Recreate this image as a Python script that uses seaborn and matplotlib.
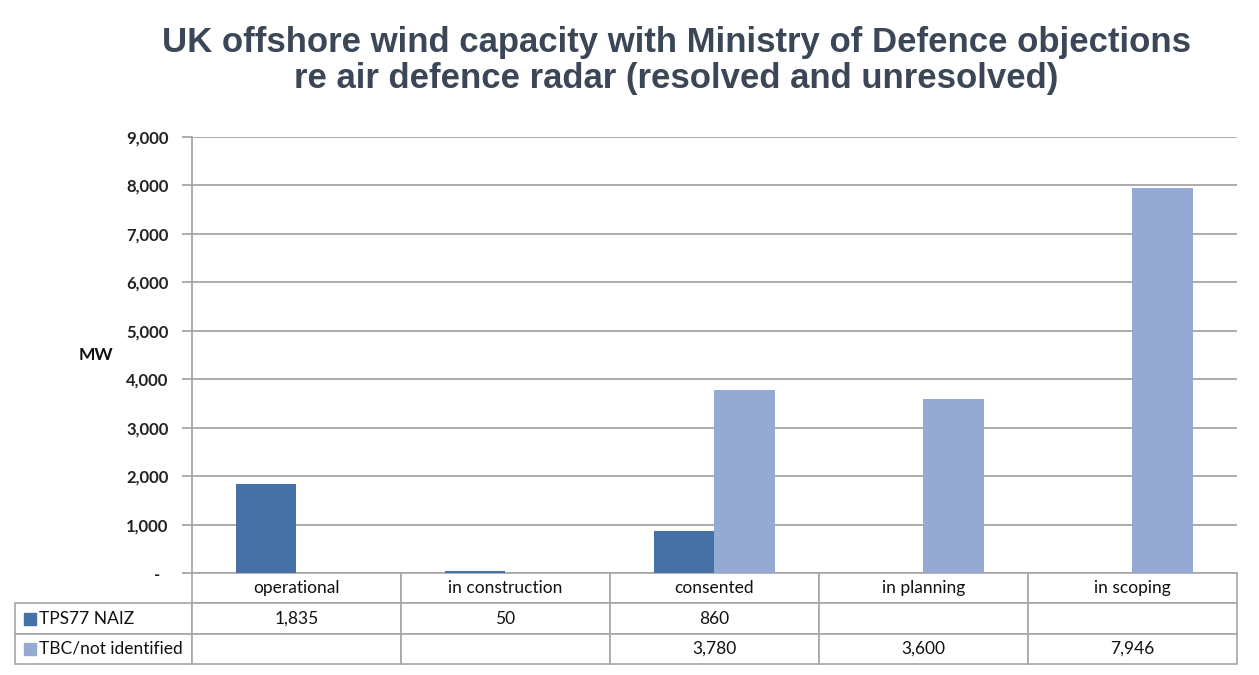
import pandas as pd
import numpy as np
import matplotlib.pyplot as plt
import matplotlib.patches as mpatches
import seaborn as sns

# data
stages = ["operational", "in construction", "consented", "in planning", "in scoping"]
tps77 = [1835, 50, 860, np.nan, np.nan]
tbc = [np.nan, np.nan, 3780, 3600, 7946]
series_names = ["TPS77 NAIZ", "TBC/not identified"]
yticks = [0, 1000, 2000, 3000, 4000, 5000, 6000, 7000, 8000, 9000]
ytick_labels = ["-  ", "1,000", "2,000", "3,000", "4,000", "5,000", "6,000", "7,000", "8,000", "9,000"]

dark = "#4571a7"
light = "#95aad3"
grid_col = "#a6a6a6"

df = pd.DataFrame({
    "stage": stages * 2,
    "mw": tps77 + tbc,
    "series": [series_names[0]] * 5 + [series_names[1]] * 5,
})

sns.set_theme(style="white")
plt.rcParams["font.family"] = ["Lato", "DejaVu Sans"]

fig = plt.figure(figsize=(12.59, 6.75), dpi=100)
ax = fig.add_axes([0.1525, 0.151, 0.83, 0.646])

sns.barplot(data=df, x="stage", y="mw", hue="series", order=stages,
            hue_order=series_names, palette=[dark, light], width=0.575,
            gap=0, saturation=1, legend=False, linewidth=0, ax=ax)

ax.set_xlim(-0.5, 4.5)
ax.set_ylim(0, 9000)
ax.set_yticks(yticks)
ax.set_yticklabels(ytick_labels, fontsize=12, fontweight="bold", color="#222222")
ax.yaxis.grid(True, color=grid_col, linewidth=1.3)
ax.set_axisbelow(True)
ax.tick_params(axis="y", left=True, length=7, width=1.3, color=grid_col, pad=10)
ax.set_xticks([])
ax.set_xlabel("")
ax.set_ylabel("")
for s in ["top", "right", "bottom"]:
    ax.spines[s].set_visible(False)
ax.spines["left"].set_color(grid_col)
ax.spines["left"].set_linewidth(1.3)

# data table under the chart
def fmt(v):
    return "" if np.isnan(v) else f"{v:,.0f}"

cell_text = [[""] + stages,
             ["TPS77 NAIZ"] + [fmt(v) for v in tps77],
             ["TBC/not identified"] + [fmt(v) for v in tbc]]
first_w = 177 / 1222
other_w = (1 - first_w) / 5
row_h = 0.2087 / 3
tbl = ax.table(cellText=cell_text, colWidths=[first_w] + [other_w] * 5,
               cellLoc="center", bbox=[-0.1694, -3 * row_h, 1.1694, 3 * row_h])
tbl.auto_set_font_size(False)
for (r, c), cell in tbl.get_celld().items():
    cell.set_edgecolor(grid_col)
    cell.set_linewidth(1.2)
    cell.get_text().set_fontsize(12.5)
    cell.get_text().set_color("#111111")
    if r == 0 and c == 0:
        cell.visible_edges = ""
    if c == 0 and r > 0:
        cell.get_text().set_ha("left")
        cell.PAD = 0.135

# legend keys inside the row label cells
key_w = 12 / 1045
key_h = 12 / 436
for i, col in enumerate([dark, light]):
    yc = -row_h * (1.5 + i)
    ax.add_patch(mpatches.Rectangle((-0.1608, yc - key_h / 2), key_w, key_h,
                                    transform=ax.transAxes, color=col, clip_on=False))

fig.text(0.076, 0.474, "MW", fontsize=12.5, fontweight="bold", ha="center", va="center",
         color="#111111")
fig.text(0.537, 0.961, "UK offshore wind capacity with Ministry of Defence objections\n"
         "re air defence radar (resolved and unresolved)",
         ha="center", va="top", fontsize=25, fontweight="bold", color="#3b4656",
         family=["Liberation Sans", "DejaVu Sans"], linespacing=1.12)

plt.savefig("out.png", dpi=100)
